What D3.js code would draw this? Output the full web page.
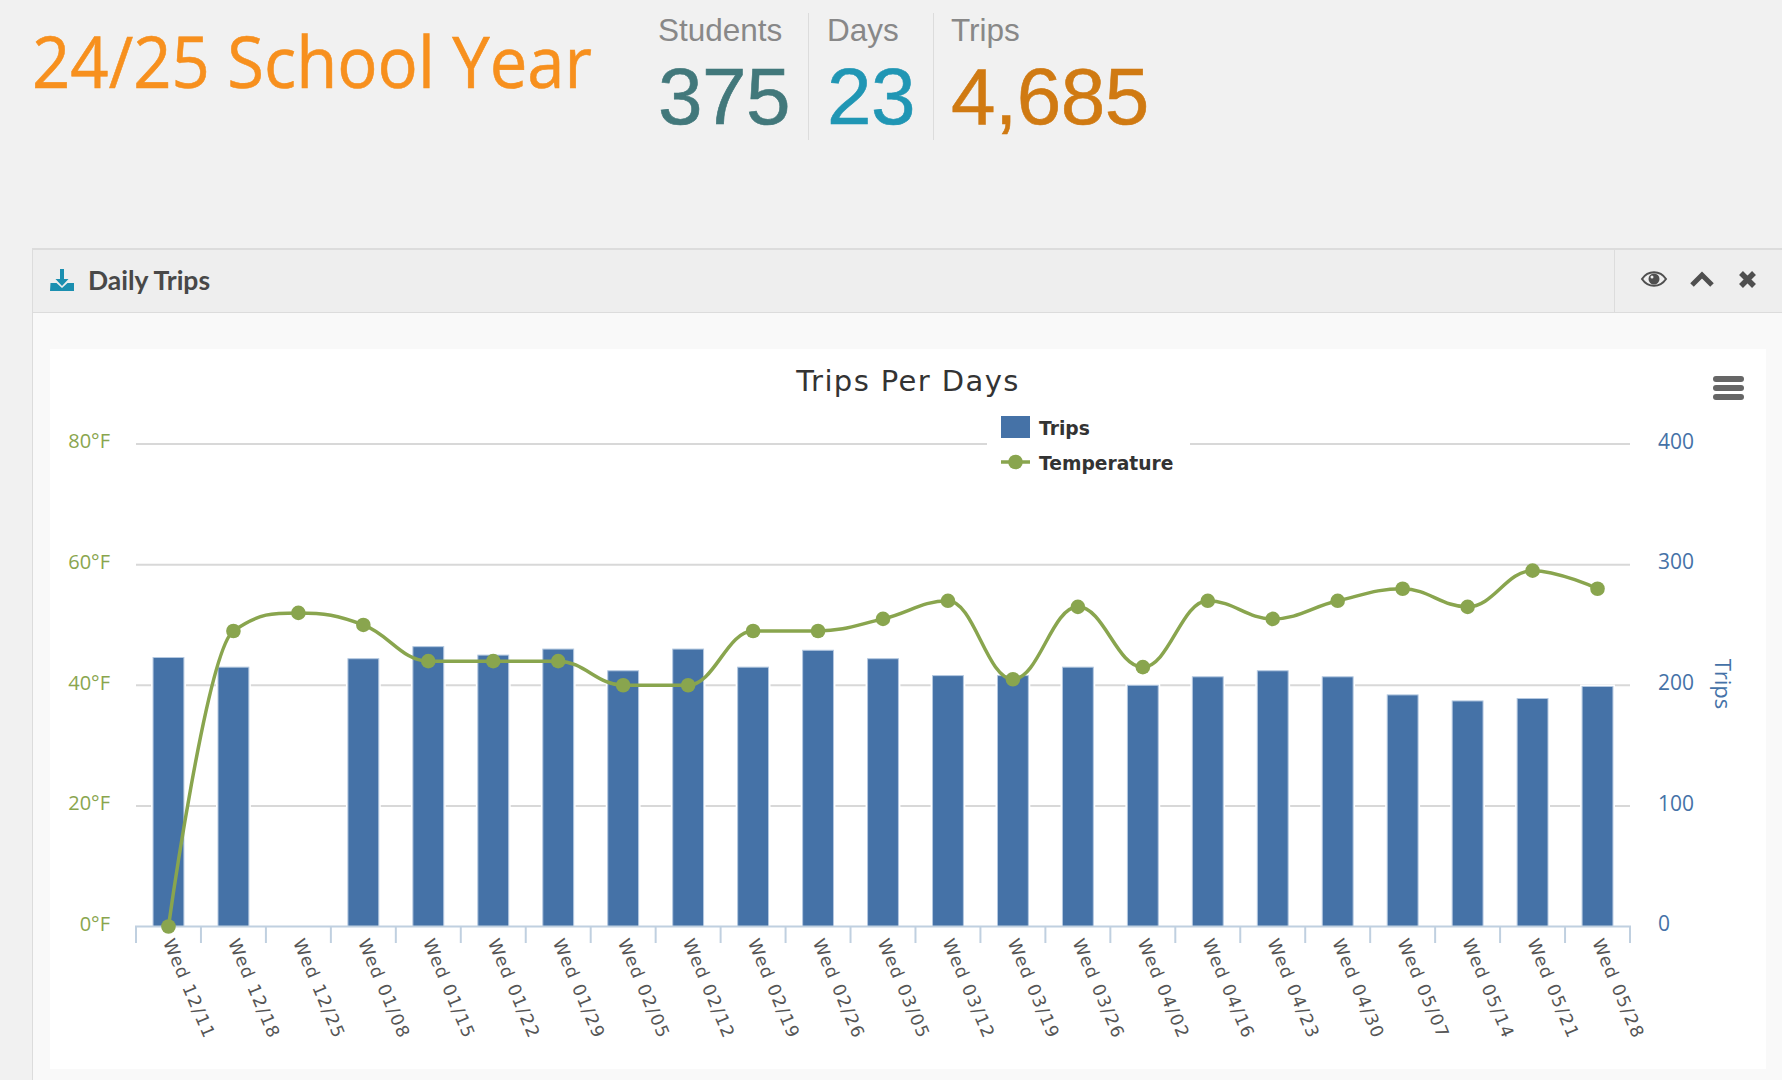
<!DOCTYPE html>
<html>
<head>
<meta charset="utf-8">
<title>Trips Per Days</title>
<script src="https://cdnjs.cloudflare.com/ajax/libs/d3/7.8.5/d3.min.js"></script>
<style>
  html, body { margin: 0; padding: 0; background: #f1f1f1; overflow: hidden; }
  svg { display: block; }
</style>
</head>
<body>
<div id="chart"></div>
<script>
// chart values
var dates = ["Wed 12/11", "Wed 12/18", "Wed 12/25", "Wed 01/08", "Wed 01/15", "Wed 01/22",
  "Wed 01/29", "Wed 02/05", "Wed 02/12", "Wed 02/19", "Wed 02/26", "Wed 03/05", "Wed 03/12",
  "Wed 03/19", "Wed 03/26", "Wed 04/02", "Wed 04/16", "Wed 04/23", "Wed 04/30", "Wed 05/07",
  "Wed 05/14", "Wed 05/21", "Wed 05/28"];
var trips = [223, 215, 0, 222, 232, 225, 230, 212, 230, 215, 229, 222, 208, 208, 215, 200,
  207, 212, 207, 192, 187, 189, 199];
var temperature = [0, 49, 52, 50, 44, 44, 44, 40, 40, 49, 49, 51, 54, 41, 53, 43, 54, 51, 54,
  56, 53, 59, 56];
var tripTicks = [0, 100, 200, 300, 400];
var tempTicks = [0, 20, 40, 60, 80];

// the number blocks at the top of the page
var statLabels = ["Students", "Days", "Trips"];
var statValues = ["375", "23", "4,685"];

var blue = "#4572a7";
var green = "#89a54e";
var axisColor = "#c0d0e0";

var svg = d3.select("#chart")
  .append("svg")
  .attr("width", 1782)
  .attr("height", 1080);

// page and panel background
svg.append("rect").attr("width", 1782).attr("height", 1080).attr("fill", "#f1f1f1");
svg.append("rect").attr("x", 32).attr("y", 312).attr("width", 1750).attr("height", 768).attr("fill", "#f9f9f9");
svg.append("rect").attr("x", 32).attr("y", 249).attr("width", 1750).attr("height", 63).attr("fill", "#eeeeee");
svg.append("rect").attr("x", 50).attr("y", 349).attr("width", 1716).attr("height", 720).attr("fill", "#fff");
svg.append("line").attr("x1", 32).attr("x2", 1782).attr("y1", 249).attr("y2", 249).attr("stroke", "#dcdcdc").attr("stroke-width", 2);
svg.append("line").attr("x1", 32).attr("x2", 1782).attr("y1", 312.5).attr("y2", 312.5).attr("stroke", "#dcdcdc");
svg.append("line").attr("x1", 32.5).attr("x2", 32.5).attr("y1", 249).attr("y2", 1080).attr("stroke", "#dcdcdc");
svg.append("line").attr("x1", 1614.5).attr("x2", 1614.5).attr("y1", 249).attr("y2", 312).attr("stroke", "#dcdcdc");

// heading
svg.append("text")
  .attr("x", 32).attr("y", 88)
  .attr("font-family", "'Open Sans'")
  .attr("font-size", 72)
  .attr("textLength", 560)
  .attr("lengthAdjust", "spacingAndGlyphs")
  .attr("fill", "#f7901e")
  .attr("stroke", "#f7901e")
  .attr("stroke-width", 0.6)
  .text("24/25 School Year");

// stat blocks
var statX = [658, 827, 951];
var statColors = ["#42787b", "#2096b4", "#d07a12"];
var stats = svg.selectAll(".stat")
  .data(statLabels)
  .enter()
  .append("g")
  .attr("class", "stat")
  .attr("transform", (d, i) => `translate(${statX[i]}, 0)`);

stats.append("text")
  .attr("y", 41)
  .attr("font-family", "'Liberation Sans'")
  .attr("font-size", 31.5)
  .attr("fill", "#888")
  .text(d => d);

stats.append("text")
  .attr("y", 124)
  .attr("font-family", "'Liberation Sans'")
  .attr("font-size", 80)
  .attr("letter-spacing", -0.5)
  .attr("fill", (d, i) => statColors[i])
  .attr("stroke", (d, i) => statColors[i])
  .attr("stroke-width", 0.6)
  .text((d, i) => statValues[i]);

svg.selectAll(".stat-sep")
  .data([808.5, 933.5])
  .enter()
  .append("line")
  .attr("class", "stat-sep")
  .attr("x1", d => d).attr("x2", d => d)
  .attr("y1", 13).attr("y2", 140)
  .attr("stroke", "#dcdcdc");

// panel header
svg.append("text")
  .attr("x", 88).attr("y", 290)
  .attr("font-family", "Lato")
  .attr("font-weight", 700)
  .attr("font-size", 26.5)
  .attr("fill", "#484848")
  .text("Daily Trips");

// download icon
svg.append("path")
  .attr("d", "M60 269h4v10h4.5l-6.5 7-6.5-7h4.5z M50.5 283h6l5.5 5 5.5-5h6.5v8h-24z")
  .attr("fill", "#1b8fb0");

// eye, chevron and close icons
var icons = svg.append("g").attr("fill", "#4f4f4f");
icons.append("path")
  .attr("d", "M1642 279c6-9 18-9 24 0c-6 9-18 9-24 0z")
  .attr("fill", "none").attr("stroke", "#4f4f4f").attr("stroke-width", 2);
icons.append("circle").attr("cx", 1654).attr("cy", 279).attr("r", 5.5);
icons.append("circle").attr("cx", 1652).attr("cy", 277).attr("r", 1.5).attr("fill", "#eee");
icons.append("path")
  .attr("d", "M1692 285l10-10 10 10")
  .attr("fill", "none").attr("stroke", "#4f4f4f").attr("stroke-width", 5);
icons.append("path")
  .attr("d", "M1741 273l13 13M1754 273l-13 13")
  .attr("fill", "none").attr("stroke", "#4f4f4f").attr("stroke-width", 5.5);

// export menu button
svg.selectAll(".burger")
  .data([376, 385, 394])
  .enter()
  .append("rect")
  .attr("class", "burger")
  .attr("x", 1713).attr("y", d => d)
  .attr("width", 31).attr("height", 6).attr("rx", 3)
  .attr("fill", "#666");

// scales
var xScale = d3.scaleBand()
  .domain(dates)
  .range([136, 1630])
  .paddingInner(0.525)
  .paddingOuter(0.2625);
var yTrips = d3.scaleLinear().domain([0, 400]).range([926.5, 444]);
var yTemp = d3.scaleLinear().domain([0, 80]).range([926.5, 444]);
var step = xScale.step();

// grid
svg.append("g")
  .selectAll("line")
  .data(tripTicks.slice(1))
  .enter()
  .append("line")
  .attr("x1", 136).attr("x2", 1630)
  .attr("y1", d => yTrips(d)).attr("y2", d => yTrips(d))
  .attr("stroke", "#d8d8d8")
  .attr("stroke-width", 2);

// left axis
var leftAxis = svg.append("g")
  .attr("transform", "translate(110, -2.5)")
  .call(d3.axisLeft(yTemp).tickValues(tempTicks).tickSize(0).tickPadding(0).tickFormat(d => d + "°F"));
leftAxis.select(".domain").remove();
leftAxis.selectAll("text")
  .attr("font-family", "'Open Sans'")
  .attr("font-size", 20)
  .attr("fill", green);

// right axis
var rightAxis = svg.append("g")
  .attr("transform", "translate(1658, -2.5)")
  .call(d3.axisRight(yTrips).tickValues(tripTicks).tickSize(0).tickPadding(0));
rightAxis.select(".domain").remove();
rightAxis.selectAll("text")
  .attr("font-family", "'Open Sans'")
  .attr("font-size", 21)
  .attr("fill", blue);

svg.append("text")
  .attr("transform", "translate(1715, 684) rotate(90)")
  .attr("text-anchor", "middle")
  .attr("font-family", "'Open Sans'")
  .attr("font-size", 22)
  .attr("fill", blue)
  .text("Trips");

// bars: white halo first, then the bar with its pale edge
var barData = dates.map((d, i) => ({ date: d, trips: trips[i] })).filter(d => d.trips > 0);

svg.append("g")
  .selectAll("rect")
  .data(barData)
  .enter()
  .append("rect")
  .attr("x", d => xScale(d.date))
  .attr("y", d => yTrips(d.trips))
  .attr("width", xScale.bandwidth())
  .attr("height", d => yTrips(0) - yTrips(d.trips))
  .attr("fill", "#fff")
  .attr("stroke", "#fff")
  .attr("stroke-width", 4);

svg.append("g")
  .selectAll("rect")
  .data(barData)
  .enter()
  .append("rect")
  .attr("x", d => xScale(d.date))
  .attr("y", d => yTrips(d.trips))
  .attr("width", xScale.bandwidth())
  .attr("height", d => yTrips(0) - yTrips(d.trips))
  .attr("fill", blue)
  .attr("stroke", "#b4c8e0")
  .attr("stroke-width", 1);

// bottom axis: labels from the band scale, ticks between the bands
var bottomAxis = svg.append("g")
  .attr("transform", "translate(0, 926.5)")
  .call(d3.axisBottom(xScale).tickSize(0).tickPadding(0));
bottomAxis.select(".domain").remove();
bottomAxis.selectAll("text")
  .attr("transform", "translate(0, 13) rotate(67)")
  .attr("x", 0).attr("y", 0).attr("dy", "0.35em")
  .attr("text-anchor", "start")
  .attr("font-family", "'DejaVu Sans'")
  .attr("font-size", 17.5)
  .attr("letter-spacing", 1.4)
  .attr("fill", "#555");

svg.append("line")
  .attr("x1", 135).attr("x2", 1631)
  .attr("y1", 926.5).attr("y2", 926.5)
  .attr("stroke", axisColor)
  .attr("stroke-width", 2);

svg.append("g")
  .selectAll("line")
  .data(d3.range(dates.length + 1))
  .enter()
  .append("line")
  .attr("x1", d => 136 + d * step).attr("x2", d => 136 + d * step)
  .attr("y1", 926.5).attr("y2", 943)
  .attr("stroke", axisColor)
  .attr("stroke-width", 2);

// same smoothing the original chart's spline uses
function splinePath(pts) {
  var path = d3.path();
  var smoothing = 1.5, denom = smoothing + 1;
  var prevRight = null;
  pts.forEach(function(p, i) {
    if (i === 0) {
      path.moveTo(p[0], p[1]);
      prevRight = p;
      return;
    }
    var left = p, right = p;
    var last = pts[i - 1], next = pts[i + 1];
    if (next) {
      var lx = (smoothing * p[0] + last[0]) / denom;
      var ly = (smoothing * p[1] + last[1]) / denom;
      var rx = (smoothing * p[0] + next[0]) / denom;
      var ry = (smoothing * p[1] + next[1]) / denom;
      var correction = ((ry - ly) * (rx - p[0])) / (rx - lx) + p[1] - ry;
      ly += correction;
      ry += correction;
      if (ly > last[1] && ly > p[1]) {
        ly = Math.max(last[1], p[1]);
        ry = 2 * p[1] - ly;
      } else if (ly < last[1] && ly < p[1]) {
        ly = Math.min(last[1], p[1]);
        ry = 2 * p[1] - ly;
      }
      if (ry > next[1] && ry > p[1]) {
        ry = Math.max(next[1], p[1]);
        ly = 2 * p[1] - ry;
      } else if (ry < next[1] && ry < p[1]) {
        ry = Math.min(next[1], p[1]);
        ly = 2 * p[1] - ry;
      }
      left = [lx, ly];
      right = [rx, ry];
    }
    path.bezierCurveTo(prevRight[0], prevRight[1], left[0], left[1], p[0], p[1]);
    prevRight = right;
  });
  return path.toString();
}

var centers = dates.map((d, i) => [xScale(d) + xScale.bandwidth() / 2, yTemp(temperature[i])]);

svg.append("path")
  .attr("d", splinePath(centers))
  .attr("fill", "none")
  .attr("stroke", green)
  .attr("stroke-width", 3.5);

svg.append("g")
  .selectAll("circle")
  .data(temperature)
  .enter()
  .append("circle")
  .attr("cx", (d, i) => xScale(dates[i]) + xScale.bandwidth() / 2)
  .attr("cy", d => yTemp(d))
  .attr("r", 7.3)
  .attr("fill", green);

// title
svg.append("text")
  .attr("x", 908).attr("y", 391)
  .attr("text-anchor", "middle")
  .attr("font-family", "'DejaVu Sans'")
  .attr("font-size", 29)
  .attr("letter-spacing", 1.4)
  .attr("fill", "#333")
  .text("Trips Per Days");

// legend
svg.append("rect").attr("x", 987).attr("y", 408).attr("width", 203).attr("height", 76).attr("fill", "#fff");
svg.append("rect").attr("x", 1001).attr("y", 416).attr("width", 29).attr("height", 22).attr("fill", blue);
svg.append("line").attr("x1", 1001).attr("x2", 1030).attr("y1", 462).attr("y2", 462).attr("stroke", green).attr("stroke-width", 3.5);
svg.append("circle").attr("cx", 1015.5).attr("cy", 462).attr("r", 7.3).attr("fill", green);

svg.selectAll(".legend-label")
  .data(["Trips", "Temperature"])
  .enter()
  .append("text")
  .attr("class", "legend-label")
  .attr("x", 1039)
  .attr("y", (d, i) => 435 + i * 35)
  .attr("font-family", "'DejaVu Sans'")
  .attr("font-weight", 700)
  .attr("font-size", 18.7)
  .attr("fill", "#333")
  .text(d => d);
</script>
</body>
</html>
